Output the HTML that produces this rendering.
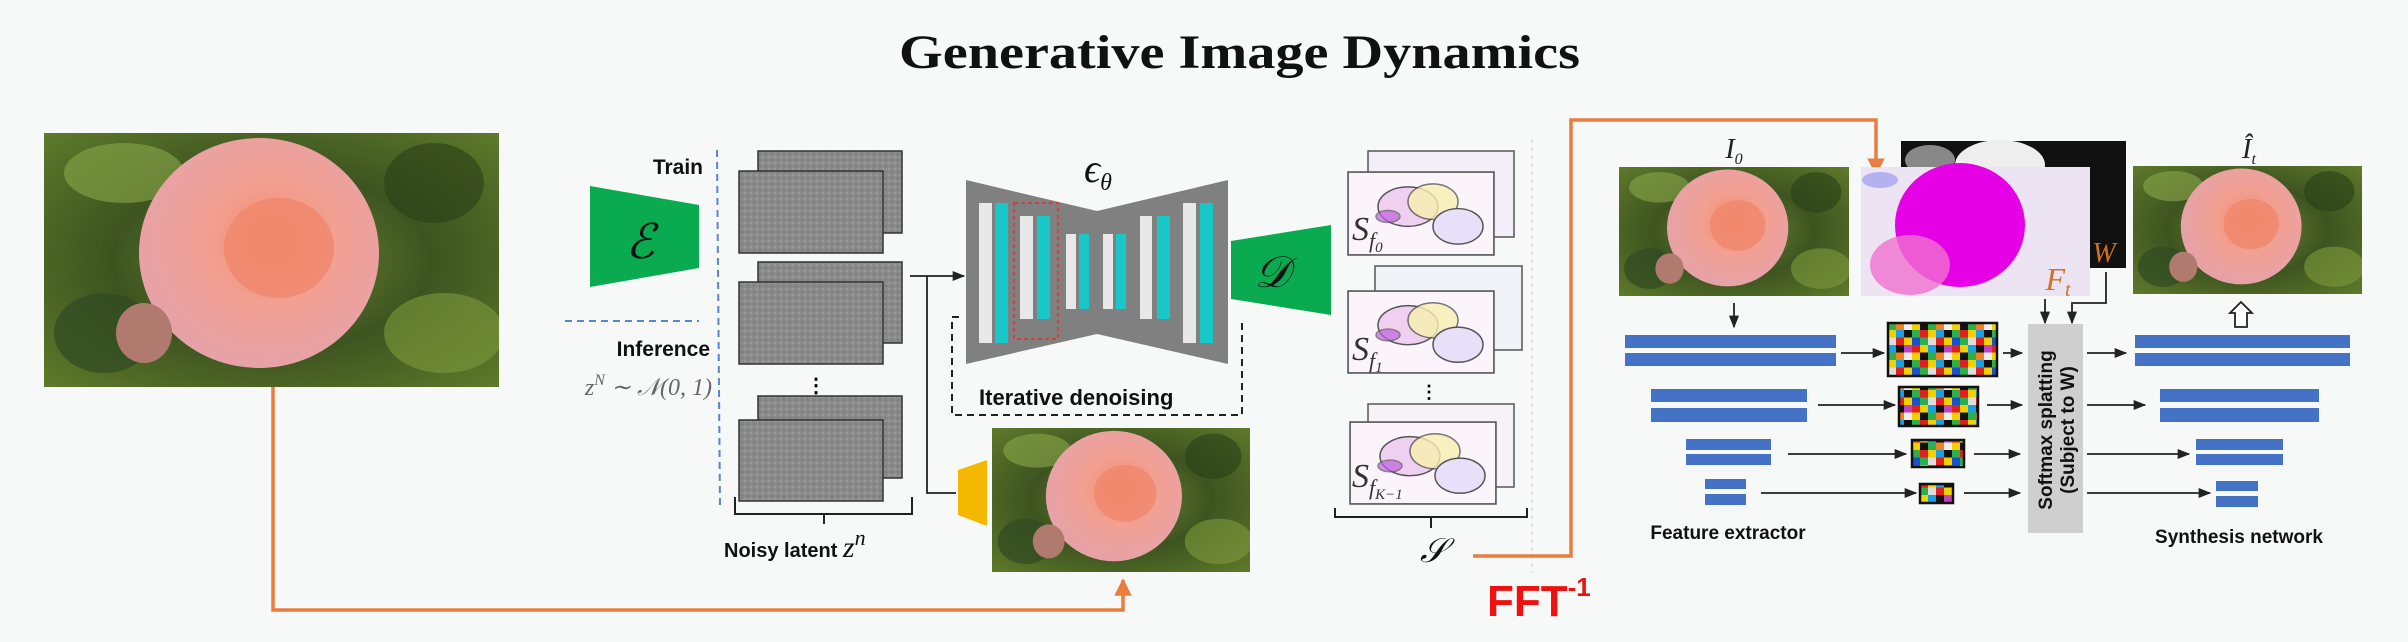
<!DOCTYPE html>
<html><head><meta charset="utf-8"><style>
html,body{margin:0;padding:0;background:#f7f8f8}
svg{display:block}
</style></head><body>
<svg width="2408" height="642" viewBox="0 0 2408 642" xmlns="http://www.w3.org/2000/svg">
<defs>
<radialGradient id="bg1" cx="50%" cy="50%" r="70%">
<stop offset="0" stop-color="#6f8a35"/><stop offset="0.5" stop-color="#3d5420"/><stop offset="1" stop-color="#5e7a2a"/></radialGradient>
<radialGradient id="rose" cx="55%" cy="45%" r="55%">
<stop offset="0" stop-color="#f08a6e"/><stop offset="0.5" stop-color="#f2a092"/><stop offset="1" stop-color="#e7a2a8"/></radialGradient>
<symbol id="roseimg" viewBox="0 0 455 254" preserveAspectRatio="none">
<rect width="455" height="254" fill="url(#bg1)"/>
<ellipse cx="80" cy="40" rx="60" ry="30" fill="#8aa64a" opacity=".6"/>
<ellipse cx="400" cy="200" rx="60" ry="40" fill="#7e9a3c" opacity=".6"/>
<ellipse cx="390" cy="50" rx="50" ry="40" fill="#2c3d17" opacity=".6"/>
<ellipse cx="60" cy="200" rx="50" ry="40" fill="#2f4a22" opacity=".7"/>
<ellipse cx="215" cy="120" rx="120" ry="115" fill="url(#rose)"/>
<ellipse cx="235" cy="115" rx="55" ry="50" fill="#f08468" opacity=".7"/>
<ellipse cx="100" cy="200" rx="28" ry="30" fill="#b07a6e"/>
</symbol>
<pattern id="noise" width="6" height="6" patternUnits="userSpaceOnUse">
<rect width="6" height="6" fill="#8a8a8a"/><rect width="2" height="2" fill="#9a9a9a"/><rect x="3" y="3" width="2" height="2" fill="#7a7a7a"/><rect x="4" y="1" width="1" height="1" fill="#a08f96"/>
</pattern>
<pattern id="grid" width="40" height="30" patternUnits="userSpaceOnUse">
<rect width="40" height="30" fill="#fff"/>
<rect x="0" y="0" width="8" height="7.5" fill="#e02020"/><rect x="8" y="0" width="8" height="7.5" fill="#f5d000"/><rect x="16" y="0" width="8" height="7.5" fill="#1a9fe0"/><rect x="24" y="0" width="8" height="7.5" fill="#111"/><rect x="32" y="0" width="8" height="7.5" fill="#2bb04a"/>
<rect x="0" y="7.5" width="8" height="7.5" fill="#2bb04a"/><rect x="8" y="7.5" width="8" height="7.5" fill="#ddd"/><rect x="16" y="7.5" width="8" height="7.5" fill="#e02020"/><rect x="24" y="7.5" width="8" height="7.5" fill="#f5d000"/><rect x="32" y="7.5" width="8" height="7.5" fill="#1a4fd0"/>
<rect x="0" y="15" width="8" height="7.5" fill="#f5d000"/><rect x="8" y="15" width="8" height="7.5" fill="#1a9fe0"/><rect x="16" y="15" width="8" height="7.5" fill="#111"/><rect x="24" y="15" width="8" height="7.5" fill="#c040c0"/><rect x="32" y="15" width="8" height="7.5" fill="#e02020"/>
<rect x="0" y="22.5" width="8" height="7.5" fill="#111"/><rect x="8" y="22.5" width="8" height="7.5" fill="#2bb04a"/><rect x="16" y="22.5" width="8" height="7.5" fill="#f08020"/><rect x="24" y="22.5" width="8" height="7.5" fill="#eee"/><rect x="32" y="22.5" width="8" height="7.5" fill="#f5d000"/>
</pattern>
<symbol id="flowimg" viewBox="0 0 146 84" preserveAspectRatio="none">
<rect width="146" height="84" fill="#fbf4fb"/>
<ellipse cx="60" cy="35" rx="30" ry="20" fill="#f0d0f0"/>
<ellipse cx="85" cy="30" rx="25" ry="18" fill="#f8f0b0" opacity=".8"/>
<ellipse cx="40" cy="45" rx="12" ry="6" fill="#c060e0" opacity=".7"/>
<ellipse cx="110" cy="55" rx="25" ry="18" fill="#e8e0f8"/>
</symbol>
<marker id="ah" viewBox="0 0 10 10" refX="9" refY="5" markerWidth="7" markerHeight="7" orient="auto"><path d="M0,1 L10,5 L0,9 z" fill="#222"/></marker>
<marker id="aho" viewBox="0 0 10 10" refX="9" refY="5" markerWidth="5" markerHeight="5" orient="auto"><path d="M0,0 L10,5 L0,10 z" fill="#e87d3e"/></marker>
</defs>

<rect width="2408" height="642" fill="#f7f8f8"/>
<text x="899" y="68" textLength="681" lengthAdjust="spacingAndGlyphs" font-family="Liberation Serif,serif" font-weight="bold" font-size="48" fill="#111">Generative Image Dynamics</text>

<!-- main rose -->
<use href="#roseimg" x="44" y="133" width="455" height="254"/>
<path d="M273,387 V610 H1123 V580" fill="none" stroke="#e87d3e" stroke-width="3.5" marker-end="url(#aho)"/>

<!-- encoder -->
<text x="703" y="174" text-anchor="end" font-family="Liberation Sans,sans-serif" font-weight="bold" font-size="21" fill="#111">Train</text>
<polygon points="590,186 699,205 699,268 590,287" fill="#0aaa50"/>
<text x="640" y="258" text-anchor="middle" font-family="Liberation Serif,serif" font-style="italic" font-size="48" fill="#111">ℰ</text>
<line x1="717" y1="150" x2="720" y2="508" stroke="#5b85d0" stroke-width="2" stroke-dasharray="7,5"/>
<line x1="565" y1="321" x2="699" y2="321" stroke="#5b85d0" stroke-width="2" stroke-dasharray="7,5"/>
<text x="710" y="356" text-anchor="end" font-family="Liberation Sans,sans-serif" font-weight="bold" font-size="21" fill="#111">Inference</text>
<text x="712" y="395" text-anchor="end" font-family="Liberation Serif,serif" font-style="italic" font-size="24" fill="#666">z<tspan dy="-10" font-size="16">N</tspan><tspan dy="10"> ∼ 𝒩(0, 1)</tspan></text>

<!-- noise stacks -->
<g stroke="#333" stroke-width="1.5" fill="url(#noise)">
<rect x="758" y="151" width="144" height="82"/><rect x="739" y="171" width="144" height="82"/>
<rect x="758" y="262" width="144" height="81"/><rect x="739" y="282" width="144" height="82"/>
<rect x="758" y="396" width="144" height="82"/><rect x="739" y="420" width="144" height="81"/>
</g>
<text x="816" y="392" text-anchor="middle" font-family="Liberation Sans,sans-serif" font-weight="bold" font-size="20">⋮</text>
<path d="M735,497 V514 H912 V497 M824,514 V524" fill="none" stroke="#222" stroke-width="2"/>
<text x="724" y="557" font-family="Liberation Sans,sans-serif" font-weight="bold" font-size="20" fill="#111">Noisy latent <tspan font-family="Liberation Serif,serif" font-style="italic" font-weight="normal" font-size="30">z</tspan><tspan dy="-12" font-family="Liberation Serif,serif" font-style="italic" font-weight="normal" font-size="22">n</tspan></text>

<line x1="910" y1="276" x2="964" y2="276" stroke="#222" stroke-width="1.8" marker-end="url(#ah)"/>
<path d="M927,276 V493 H956" fill="none" stroke="#222" stroke-width="1.8"/>
<polygon points="958,470 987,460 987,526 958,515" fill="#f5b800"/>
<use href="#roseimg" x="992" y="428" width="258" height="144"/>

<path d="M1242,323 V415 H952 V317 H962" fill="none" stroke="#222" stroke-width="2" stroke-dasharray="7,5"/>
<text x="979" y="405" font-family="Liberation Sans,sans-serif" font-weight="bold" font-size="22" fill="#111">Iterative denoising</text>

<!-- UNet -->
<polygon points="966,180 1097,211 1228,180 1228,364 1097,334 966,364" fill="#808080"/>
<text x="1098" y="182" text-anchor="middle" font-family="Liberation Serif,serif" font-style="italic" font-size="40" fill="#111">ϵ<tspan dy="8" font-size="24">θ</tspan></text>
<g>
<rect x="979" y="203" width="13" height="140" fill="#e8e8e8"/><rect x="995" y="203" width="13" height="140" fill="#18c8c8"/>
<rect x="1020" y="216" width="13" height="103" fill="#e8e8e8"/><rect x="1037" y="216" width="13" height="103" fill="#18c8c8"/>
<rect x="1066" y="234" width="10" height="75" fill="#e8e8e8"/><rect x="1079" y="234" width="10" height="75" fill="#18c8c8"/>
<rect x="1103" y="234" width="10" height="75" fill="#e8e8e8"/><rect x="1116" y="234" width="10" height="75" fill="#18c8c8"/>
<rect x="1140" y="216" width="12" height="103" fill="#e8e8e8"/><rect x="1157" y="216" width="13" height="103" fill="#18c8c8"/>
<rect x="1183" y="203" width="13" height="140" fill="#e8e8e8"/><rect x="1200" y="203" width="13" height="140" fill="#18c8c8"/>
</g>
<rect x="1014" y="203" width="44" height="136" fill="none" stroke="#e03030" stroke-width="1.5" stroke-dasharray="4,3"/>

<!-- decoder -->
<polygon points="1231,241 1331,225 1331,315 1231,299" fill="#0aaa50"/>
<text x="1272" y="287" text-anchor="middle" font-family="Liberation Serif,serif" font-style="italic" font-size="44" fill="#111">𝒟</text>

<!-- S stacks -->
<g stroke="#555" stroke-width="1.5">
<rect x="1368" y="151" width="146" height="86" fill="#f4eef8"/><use href="#flowimg" x="1348" y="172" width="146" height="83"/><rect x="1348" y="172" width="146" height="83" fill="none"/>
<rect x="1375" y="266" width="147" height="84" fill="#f0f4f8"/><use href="#flowimg" x="1348" y="291" width="146" height="82"/><rect x="1348" y="291" width="146" height="82" fill="none"/>
<rect x="1368" y="404" width="146" height="83" fill="#f6f2f8"/><use href="#flowimg" x="1350" y="422" width="146" height="82"/><rect x="1350" y="422" width="146" height="82" fill="none"/>
</g>
<g font-family="Liberation Serif,serif" font-style="italic" fill="#333">
<text x="1352" y="240" font-size="34">S<tspan dy="8" font-size="22">f</tspan><tspan dy="4" font-size="15">0</tspan></text>
<text x="1352" y="360" font-size="34">S<tspan dy="8" font-size="22">f</tspan><tspan dy="4" font-size="15">1</tspan></text>
<text x="1352" y="487" font-size="34">S<tspan dy="8" font-size="22">f</tspan><tspan dy="4" font-size="15">K−1</tspan></text>
<text x="1420" y="562" font-size="34" fill="#111">𝒮</text>
</g>
<text x="1429" y="398" text-anchor="middle" font-family="Liberation Sans,sans-serif" font-weight="bold" font-size="18">⋮</text>
<path d="M1335,508 V517 H1527 V508 M1431,517 V528" fill="none" stroke="#222" stroke-width="2"/>
<line x1="1532" y1="139" x2="1532" y2="573" stroke="#d8c8c8" stroke-width="1" stroke-dasharray="4,4"/>

<path d="M1473,556 H1571 V120 H1876 V174" fill="none" stroke="#e87d3e" stroke-width="3.5" marker-end="url(#aho)"/>
<text x="1487" y="616" font-family="Liberation Sans,sans-serif" font-weight="bold" font-size="44" fill="#ee1111">FFT<tspan dy="-20" font-size="26">-1</tspan></text>

<!-- right section -->
<text x="1734" y="158" text-anchor="middle" font-family="Liberation Serif,serif" font-style="italic" font-size="28" fill="#222">I<tspan dy="6" font-size="16">0</tspan></text>
<use href="#roseimg" x="1619" y="167" width="230" height="129"/>
<rect x="1901" y="141" width="225" height="127" fill="#111"/>
<ellipse cx="2000" cy="165" rx="45" ry="25" fill="#eee"/>
<ellipse cx="1930" cy="160" rx="25" ry="15" fill="#888"/>
<rect x="1861" y="167" width="229" height="129" fill="#ece4f2"/>
<ellipse cx="1960" cy="225" rx="65" ry="62" fill="#e600e6"/>
<ellipse cx="1910" cy="265" rx="40" ry="30" fill="#f070d0" opacity=".8"/>
<ellipse cx="1880" cy="180" rx="18" ry="8" fill="#9090f0" opacity=".6"/>
<text x="2104" y="262" text-anchor="middle" font-family="Liberation Serif,serif" font-style="italic" font-size="28" fill="#d07020">W</text>
<text x="2058" y="290" text-anchor="middle" font-family="Liberation Serif,serif" font-style="italic" font-size="32" fill="#d07020">F<tspan dy="6" font-size="20">t</tspan></text>
<text x="2249" y="158" text-anchor="middle" font-family="Liberation Serif,serif" font-style="italic" font-size="28" fill="#222">Î<tspan dy="6" font-size="16">t</tspan></text>
<use href="#roseimg" x="2133" y="166" width="229" height="128"/>

<g stroke="#222" stroke-width="1.8" fill="none">
<line x1="1734" y1="303" x2="1734" y2="327" marker-end="url(#ah)"/>
<line x1="2045" y1="299" x2="2045" y2="323" marker-end="url(#ah)"/>
<path d="M2106,272 V303 H2072 V323" marker-end="url(#ah)"/>
</g>
<path d="M2235,327 V313 H2230 L2241,302 L2252,313 H2247 V327 Z" fill="#fff" stroke="#222" stroke-width="1.8"/>

<rect x="2028" y="324" width="55" height="209" fill="#cfcfcf"/>
<text transform="translate(2052,430) rotate(-90)" text-anchor="middle" font-family="Liberation Sans,sans-serif" font-weight="bold" font-size="19" fill="#111">Softmax splatting</text>
<text transform="translate(2074,430) rotate(-90)" text-anchor="middle" font-family="Liberation Sans,sans-serif" font-weight="bold" font-size="19" fill="#111">(Subject to W)</text>

<g fill="#4472c4">
<rect x="1625" y="335" width="211" height="13"/><rect x="1625" y="353" width="211" height="13"/>
<rect x="1651" y="389" width="156" height="13"/><rect x="1651" y="408" width="156" height="14"/>
<rect x="1686" y="439" width="85" height="11"/><rect x="1686" y="454" width="85" height="11"/>
<rect x="1705" y="479" width="41" height="10"/><rect x="1705" y="494" width="41" height="11"/>
<rect x="2135" y="335" width="215" height="13"/><rect x="2135" y="353" width="215" height="13"/>
<rect x="2160" y="389" width="159" height="13"/><rect x="2160" y="408" width="159" height="14"/>
<rect x="2196" y="439" width="87" height="11"/><rect x="2196" y="454" width="87" height="11"/>
<rect x="2216" y="481" width="42" height="10"/><rect x="2216" y="496" width="42" height="11"/>
</g>
<g stroke="#111" stroke-width="2.5" fill="url(#grid)">
<rect x="1888" y="323" width="109" height="53"/>
<rect x="1899" y="387" width="79" height="39"/>
<rect x="1912" y="440" width="52" height="27"/>
<rect x="1920" y="484" width="33" height="19"/>
</g>
<g stroke="#222" stroke-width="1.8" marker-end="url(#ah)">
<line x1="1841" y1="353" x2="1884" y2="353"/><line x1="2003" y1="353" x2="2022" y2="353"/><line x1="2087" y1="353" x2="2126" y2="353"/>
<line x1="1818" y1="405" x2="1895" y2="405"/><line x1="1987" y1="405" x2="2022" y2="405"/><line x1="2087" y1="405" x2="2145" y2="405"/>
<line x1="1788" y1="454" x2="1906" y2="454"/><line x1="1974" y1="454" x2="2020" y2="454"/><line x1="2087" y1="454" x2="2189" y2="454"/>
<line x1="1761" y1="493" x2="1916" y2="493"/><line x1="1964" y1="493" x2="2020" y2="493"/><line x1="2087" y1="493" x2="2210" y2="493"/>
</g>
<text x="1728" y="539" text-anchor="middle" font-family="Liberation Sans,sans-serif" font-weight="bold" font-size="19" fill="#111">Feature extractor</text>
<text x="2239" y="543" text-anchor="middle" font-family="Liberation Sans,sans-serif" font-weight="bold" font-size="19" fill="#111">Synthesis network</text>
</svg>
</body></html>
